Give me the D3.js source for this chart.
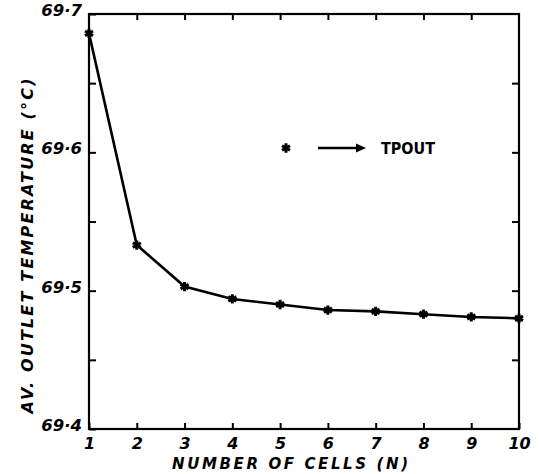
<!DOCTYPE html>
<html lang="en">
<style>
body { margin: 0; background: #fff; }
text { font-family: "DejaVu Sans", sans-serif; font-weight: bold; font-style: italic; fill: #000; }
</style>
<script type="text/javascript" src="https://cdnjs.cloudflare.com/ajax/libs/d3/7.8.5/d3.min.js"></script>
<body>
<script type="text/javascript">

// Data
var cells = [1, 2, 3, 4, 5, 6, 7, 8, 9, 10];
var tpout = [69.686, 69.533, 69.503, 69.494, 69.490, 69.486, 69.485, 69.483, 69.481, 69.480];
var yTicks = [69.4, 69.5, 69.6, 69.7];
var yMinor = [69.45, 69.55, 69.65];

var width = 540,
    height = 474;
var pLeft = 89, pRight = 519, pTop = 14, pBottom = 429;

var svg = d3.select("body").append("svg")
    .attr("width", width)
    .attr("height", height);

var x = d3.scaleLinear().domain([1, 10]).range([pLeft, pRight]);
var y = d3.scaleLinear().domain([69.4, 69.7]).range([pBottom, pTop]);

var fmt = function(d) { return d.toFixed(1).replace(".", "\u00b7"); };

// frame
svg.append("rect")
    .attr("x", pLeft).attr("y", pTop)
    .attr("width", pRight - pLeft).attr("height", pBottom - pTop)
    .attr("fill", "none").attr("stroke", "#000").attr("stroke-width", 2.2);

// axes, ticks pointing inwards
var xAxis = svg.append("g")
    .attr("transform", "translate(0," + pBottom + ")")
    .call(d3.axisBottom(x).tickValues(cells).tickSizeInner(-6).tickSizeOuter(0).tickPadding(9)
      .tickFormat(d3.format("d")));
svg.append("g")
    .attr("transform", "translate(0," + pTop + ")")
    .call(d3.axisTop(x).tickValues(cells.slice(1, 9)).tickSize(-6).tickFormat(""));

var yAxis = svg.append("g")
    .attr("transform", "translate(" + pLeft + ",0)")
    .call(d3.axisLeft(y).tickValues(yTicks.concat(yMinor)).tickSizeInner(-7).tickSizeOuter(0).tickPadding(7)
      .tickFormat(function(d) { return yTicks.indexOf(d) >= 0 ? fmt(d) : ""; }));
svg.append("g")
    .attr("transform", "translate(" + pRight + ",0)")
    .call(d3.axisRight(y).tickValues([69.45, 69.5, 69.55, 69.6, 69.65]).tickSize(-7).tickFormat(""));

svg.selectAll(".domain").remove();
svg.selectAll(".tick line").attr("stroke", "#000").attr("stroke-width", 2);
xAxis.selectAll("text").style("font-size", "16px");
yAxis.selectAll("text").style("font-size", "16.5px").attr("dy", "0.1em");

// line
var line = d3.line()
    .x(function(d, i) { return x(cells[i]); })
    .y(function(d) { return y(d); });

svg.append("path")
    .datum(tpout)
    .attr("d", line)
    .attr("fill", "none")
    .attr("stroke", "#000")
    .attr("stroke-width", 2.6);

var star = d3.symbol().type(d3.symbolAsterisk).size(60);
svg.selectAll(".pt")
    .data(tpout)
    .enter().append("path")
    .attr("class", "pt")
    .attr("d", star)
    .attr("transform", function(d, i) { return "translate(" + x(cells[i]) + "," + y(d) + ")"; })
    .attr("fill", "none")
    .attr("stroke", "#000")
    .attr("stroke-width", 3);

// legend
svg.append("path")
    .attr("d", star)
    .attr("transform", "translate(286,148)")
    .attr("fill", "none").attr("stroke", "#000").attr("stroke-width", 3);
svg.append("line")
    .attr("x1", 318).attr("x2", 358).attr("y1", 148).attr("y2", 148)
    .attr("stroke", "#000").attr("stroke-width", 2.4);
svg.append("path")
    .attr("d", "M356,143.5L366,148L356,152.5Z")
    .attr("fill", "#000");
svg.append("text")
    .attr("x", 381).attr("y", 154)
    .attr("textLength", 54)
    .attr("lengthAdjust", "spacingAndGlyphs")
    .style("font-style", "normal")
    .style("font-size", "16px")
    .text("TPOUT");

// axis titles
svg.append("text")
    .attr("x", 290).attr("y", 469)
    .attr("text-anchor", "middle")
    .attr("textLength", 236)
    .style("font-size", "15px")
    .text("NUMBER OF CELLS  (N)");

svg.append("text")
    .attr("transform", "translate(33,246) rotate(-90)")
    .attr("text-anchor", "middle")
    .attr("textLength", 335)
    .style("font-size", "16px")
    .text("AV. OUTLET TEMPERATURE (\u00b0C)");

</script>
</body>
</html>
